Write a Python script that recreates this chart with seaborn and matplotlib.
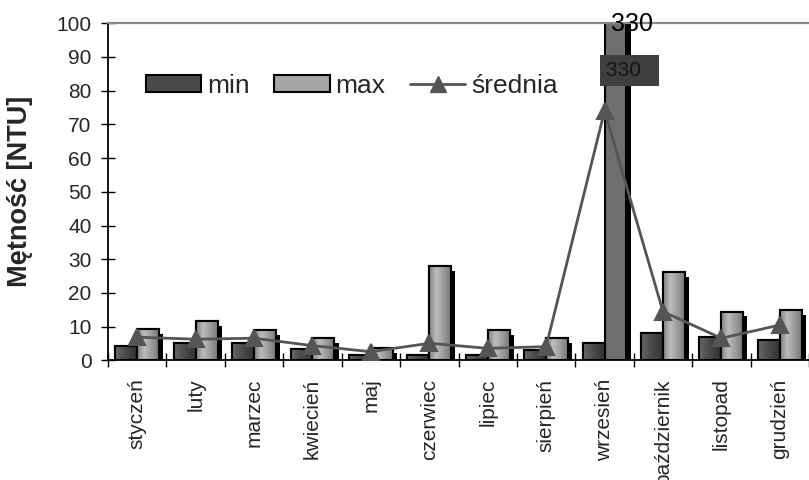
import numpy as np
import pandas as pd
import matplotlib
matplotlib.use("Agg")
import matplotlib.pyplot as plt
import matplotlib.patheffects as pe
from matplotlib.colors import LinearSegmentedColormap
from matplotlib.patches import Patch, Rectangle
from matplotlib.lines import Line2D
import seaborn as sns

# Monthly turbidity readings
months = ["styczeń", "luty", "marzec", "kwiecień", "maj", "czerwiec",
          "lipiec", "sierpień", "wrzesień", "październik", "listopad", "grudzień"]
min_vals = [4.4, 5.1, 5.1, 3.3, 1.6, 1.5, 1.5, 3.1, 5.3, 8.2, 6.9, 6.1]
max_vals = [9.3, 11.8, 9.0, 6.6, 3.8, 28.0, 9.0, 6.6, 330, 26.1, 14.5, 15.0]
avg_vals = [6.9, 6.3, 6.6, 4.4, 2.6, 5.1, 3.6, 4.1, 74.0, 14.5, 6.6, 10.5]
series_names = ["min", "max"]
avg_name = "średnia"
y_label = "Mętność [NTU]"

bars_df = pd.DataFrame({
    "month": months * 2,
    "value": min_vals + max_vals,
    "series": [series_names[0]] * len(months) + [series_names[1]] * len(months),
})
avg_df = pd.DataFrame({"month": months, "value": avg_vals})

sns.set_theme(style="ticks")
plt.rcParams["font.family"] = ["Liberation Sans", "DejaVu Sans"]

fig = plt.figure(figsize=(8.09, 4.8), dpi=100)
ax = fig.add_axes([0.1335, 0.249, 0.8665, 0.703])

sns.barplot(data=bars_df, x="month", y="value", hue="series", order=months,
            hue_order=series_names, palette=["#4a4a4a", "#a0a0a0"],
            width=0.75, saturation=1, edgecolor="black", linewidth=1.5,
            legend=False, ax=ax, zorder=2)

cmap_min = LinearSegmentedColormap.from_list("cmin", ["#666666", "#4a4a4a", "#323232"])
cmap_max = LinearSegmentedColormap.from_list("cmax", ["#828282", "#bdbdbd", "#9c9c9c", "#787878"])
grad = np.linspace(0, 1, 64).reshape(1, -1)

shadow = [pe.SimplePatchShadow(offset=(3, -3.5), shadow_rgbFace="black", alpha=1), pe.Normal()]
for cont, cmap in zip(ax.containers, [cmap_min, cmap_max]):
    for bar in cont:
        bar.set_path_effects(shadow)
        x0, w, h = bar.get_x(), bar.get_width(), bar.get_height()
        if h > 100:
            # off-scale bar: flat fill
            bar.set_facecolor("#6e6e6e")
            continue
        im = ax.imshow(grad, extent=(x0, x0 + w, 0, h), aspect="auto", cmap=cmap,
                       interpolation="bicubic", zorder=2.2)
        im.set_clip_path(bar)
        ax.add_patch(Rectangle((x0, 0), w, h, fill=False, edgecolor="black",
                               linewidth=1.5, zorder=2.3))

sns.pointplot(data=avg_df, x="month", y="value", order=months, color="#555555",
              markers="^", linestyles="-", markersize=11, linewidth=2,
              errorbar=None, ax=ax, zorder=5)

ax.set_xlim(-0.5, 11.5)
ax.set_ylim(0, 100)
ax.set_yticks(range(0, 101, 10))
ax.set_xticks(range(len(months)))
ax.set_xticklabels(months, rotation=90, fontsize=15)
ax.set_xticks(np.arange(-0.5, len(months), 1), minor=True)
ax.tick_params(axis="x", which="major", length=0, pad=13, bottom=True)
ax.tick_params(axis="x", which="minor", direction="inout", length=10, width=1,
               color="black", bottom=True)
ax.tick_params(axis="y", direction="inout", length=9.5, width=1, pad=7,
               labelsize=15, color="black", left=True)
ax.set_xlabel("")
ax.set_ylabel(y_label, fontsize=19.5, fontweight="bold")
ax.yaxis.set_label_coords(-0.107, 0.5)

for side in ["left", "bottom"]:
    ax.spines[side].set_color("black")
    ax.spines[side].set_linewidth(1.3)
ax.spines["top"].set_visible(True)
ax.spines["top"].set_color("#888888")
ax.spines["top"].set_linewidth(1.6)
ax.spines["right"].set_visible(False)

# value labels for the off-scale September maximum
big = ax.containers[1][months.index("wrzesień")]
cx = big.get_x() + big.get_width() / 2
ax.annotate(f"{max_vals[8]:g}", xy=(cx, 100), xytext=(12, -1), textcoords="offset points",
            ha="center", va="center", fontsize=18, color="black",
            annotation_clip=False, zorder=6)
ax.annotate(f"{max_vals[8]:g}  ", xy=(cx, 86), xytext=(-7, 0), textcoords="offset points",
            ha="left", va="center", fontsize=15, color="#141414", zorder=6,
            bbox=dict(boxstyle="square,pad=0.3", facecolor="#3f3f3f", edgecolor="none"))

handles = [
    Patch(facecolor="#4a4a4a", edgecolor="black", linewidth=1.5, label=series_names[0]),
    Patch(facecolor="#a6a6a6", edgecolor="black", linewidth=1.5, label=series_names[1]),
    Line2D([], [], color="#555555", linewidth=2, marker="^", markersize=11, label=avg_name),
]
ax.legend(handles=handles, ncol=3, frameon=False, loc="center left",
          bbox_to_anchor=(0.054, 0.813), handlelength=2.1, handleheight=0.63,
          handletextpad=0.22, columnspacing=0.93, borderpad=0, borderaxespad=0,
          fontsize=19)

fig.savefig("out.png", dpi=100)
